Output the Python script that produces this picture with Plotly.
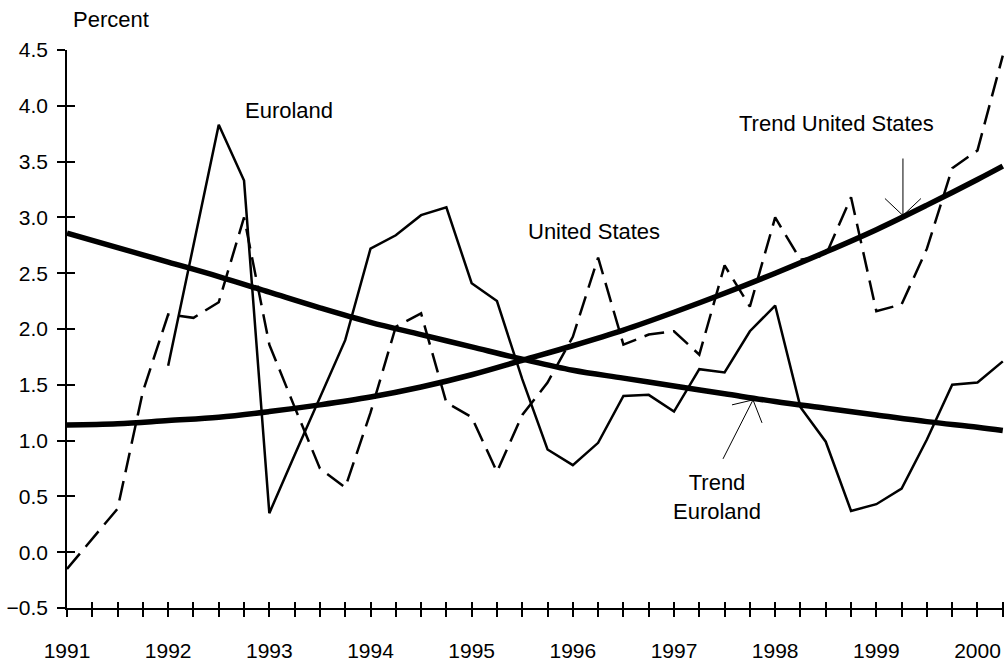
"""Euroland vs United States: quarterly series with fitted trends."""

import plotly.graph_objects as go

# quarterly dates, 1991Q1 .. 2000Q2 (decimal years)
QUARTERS = [1991 + i / 4 for i in range(38)]

US = [
    -0.15, 0.12, 0.39, 1.44,
    2.13, 2.10, 2.24, 3.00,
    1.86, 1.30, 0.75, 0.58,
    1.25, 2.02, 2.14, 1.34,
    1.21, 0.72, 1.23, 1.52,
    1.93, 2.64, 1.86, 1.95,
    1.98, 1.77, 2.57, 2.20,
    3.00, 2.62, 2.66, 3.18,
    2.16, 2.22, 2.72, 3.44,
    3.60, 4.45,
]

EUROLAND = [
    None, None, None, None,
    1.67, 2.75, 3.83, 3.33,
    0.35, 0.87, 1.38, 1.90,
    2.72, 2.84, 3.02, 3.09,
    2.41, 2.25, 1.55, 0.92,
    0.78, 0.98, 1.40, 1.41,
    1.26, 1.64, 1.61, 1.98,
    2.21, 1.30, 0.99, 0.37,
    0.43, 0.57, 1.01, 1.50,
    1.52, 1.71,
]

TREND_DATES = [
    1991.0, 1991.5, 1992.0, 1992.5, 1993.0, 1993.5, 1994.0, 1994.5, 1995.0, 1995.5,
    1996.0, 1996.5, 1997.0, 1997.5, 1998.0, 1998.5, 1999.0, 1999.5, 2000.0, 2000.25,
]
TREND_EUROLAND = [
    2.86, 2.73, 2.60, 2.47, 2.33, 2.19, 2.06, 1.95, 1.84, 1.73,
    1.63, 1.56, 1.49, 1.42, 1.35, 1.29, 1.23, 1.17, 1.12, 1.09,
]
TREND_US = [
    1.14, 1.15, 1.18, 1.21, 1.26, 1.32, 1.39, 1.48, 1.59, 1.72,
    1.85, 1.99, 2.15, 2.32, 2.50, 2.69, 2.89, 3.11, 3.34, 3.46,
]

X_TICKS = QUARTERS
X_TICKTEXT = [str(int(q)) if q == int(q) else "" for q in QUARTERS]
Y_TICKS = [-0.5, 0.0, 0.5, 1.0, 1.5, 2.0, 2.5, 3.0, 3.5, 4.0, 4.5]

X_RANGE = [1991, 2000.262]
Y_RANGE = [-0.5, 4.5]

FONT = "Liberation Sans, Arial, sans-serif"

fig = go.Figure()

fig.add_trace(go.Scatter(
    x=QUARTERS, y=EUROLAND, mode="lines", name="Euroland",
    line=dict(color="black", width=2.5), connectgaps=False,
))
fig.add_trace(go.Scatter(
    x=QUARTERS, y=US, mode="lines", name="United States",
    line=dict(color="black", width=2.5, dash="20px,9px"),
))
fig.add_trace(go.Scatter(
    x=TREND_DATES, y=TREND_EUROLAND, mode="lines", name="Trend Euroland",
    line=dict(color="black", width=5.5, shape="spline"),
))
fig.add_trace(go.Scatter(
    x=TREND_DATES, y=TREND_US, mode="lines", name="Trend United States",
    line=dict(color="black", width=5.5, shape="spline"),
))
# carrier for the overlay axes that draw the inner half of the ticks
fig.add_trace(go.Scatter(x=[], y=[], xaxis="x2", yaxis="y2", showlegend=False))

labels = [
    ("Euroland", 1993.194, 3.958),
    ("United States", 1996.209, 2.875),
    ("Trend United States", 1998.611, 3.843),
    ("Trend<br>Euroland", 1997.425, 0.495),
]
for text, x, y in labels:
    fig.add_annotation(text=text, x=x, y=y, xref="x", yref="y", showarrow=False,
                       font=dict(size=22, color="black", family=FONT))

fig.add_annotation(text="Percent", x=0.047, y=1.055, xref="paper", yref="paper",
                   xanchor="center", yanchor="middle", showarrow=False,
                   font=dict(size=22, color="black", family=FONT))

# pointer arrows (open V heads), offsets in pixels from the tip
arrows = [
    (1999.263, 3.017, [(0, 57), (-18, 17), (18, 17)]),
    (1997.781, 1.365, [(-30, -59), (-21, -5), (9, -23)]),
]
for tx, ty, segs in arrows:
    for dx, dy in segs:
        fig.add_shape(type="line", xref="x", yref="y",
                      xsizemode="pixel", ysizemode="pixel",
                      xanchor=tx, yanchor=ty, x0=0, y0=0, x1=dx, y1=dy,
                      line=dict(color="black", width=1))

axis_common = dict(showgrid=False, zeroline=False, tickcolor="black", tickwidth=1.5)

fig.update_layout(
    width=1004,
    height=662,
    margin=dict(l=67, r=0, t=50, b=49),
    plot_bgcolor="white",
    paper_bgcolor="white",
    showlegend=False,
    font=dict(family=FONT, color="black", size=21),
    xaxis=dict(
        range=X_RANGE, tickvals=X_TICKS, ticktext=X_TICKTEXT,
        ticks="outside", ticklen=7, ticklabelstandoff=16,
        showline=True, linecolor="black", linewidth=1.5,
        tickfont=dict(size=21, family=FONT, color="black"),
        **axis_common,
    ),
    yaxis=dict(
        range=Y_RANGE, tickvals=Y_TICKS, tickformat=".1f",
        ticks="outside", ticklen=8, ticklabelstandoff=5,
        showline=True, linecolor="black", linewidth=1.5,
        tickfont=dict(size=21, family=FONT, color="black"),
        **axis_common,
    ),
    xaxis2=dict(
        range=X_RANGE, tickvals=X_TICKS, showticklabels=False,
        ticks="inside", ticklen=6, overlaying="x", side="bottom",
        showline=False, **axis_common,
    ),
    yaxis2=dict(
        range=Y_RANGE, tickvals=Y_TICKS, showticklabels=False,
        ticks="inside", ticklen=8, overlaying="y", side="left",
        showline=False, **axis_common,
    ),
)

# page margin would push the fixed-size figure past the window edge
fig.write_html(
    "out.html",
    config={"displayModeBar": False},
    post_script="document.body.style.margin='0px';",
)
